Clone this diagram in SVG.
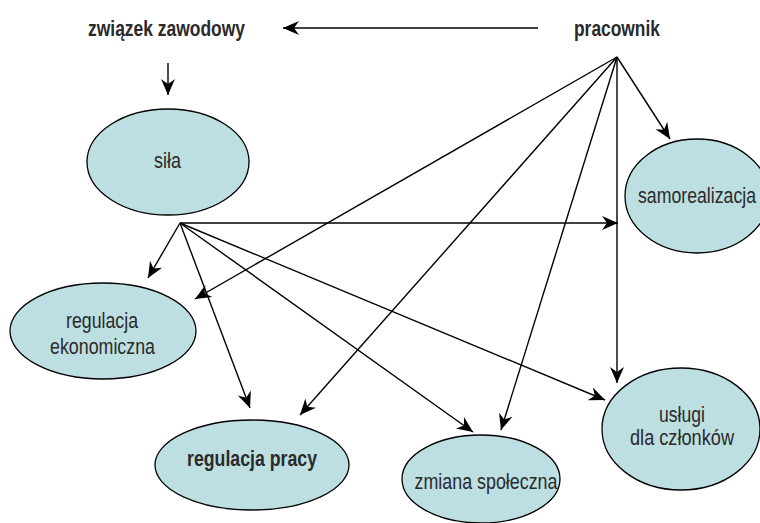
<svg xmlns="http://www.w3.org/2000/svg" width="760" height="523" viewBox="0 0 760 523">
<defs>
<style>
.node ellipse{fill:#bddfe2;stroke:#000;stroke-width:1.3}
text{font-family:"Liberation Sans",Arial,sans-serif;font-size:22px;fill:#2a2a2a;text-anchor:middle}
.b{font-weight:bold}
#connectors line{stroke:#000;stroke-width:1.4;fill:none;marker-end:url(#ah)}
</style>
<marker id="ah" markerUnits="userSpaceOnUse" markerWidth="20" markerHeight="16" viewBox="-16 -8 18 16" refX="0" refY="0" orient="auto">
<path d="M0,0 L-16,-7 L-11,0 L-16,7 Z" fill="#000"/>
</marker>
</defs>
<rect width="760" height="523" fill="#fff"/>
<g id="connectors">
<line x1="538" y1="28" x2="283" y2="28"/>
<line x1="168" y1="63" x2="168" y2="95"/>
<line x1="180" y1="223" x2="618" y2="223"/>
<line x1="180" y1="223" x2="148" y2="278"/>
<line x1="180" y1="223" x2="250" y2="408"/>
<line x1="180" y1="223" x2="473" y2="432"/>
<line x1="180" y1="223" x2="605" y2="400"/>
<line x1="617" y1="57" x2="670" y2="139"/>
<line x1="617" y1="57" x2="617" y2="383"/>
<line x1="617" y1="57" x2="195" y2="299"/>
<line x1="617" y1="57" x2="300" y2="415"/>
<line x1="617" y1="57" x2="501" y2="430"/>
</g>
<g id="zwiazek" class="node"><text class="b" x="166.5" y="36" textLength="157" lengthAdjust="spacingAndGlyphs">związek zawodowy</text></g>
<g id="pracownik" class="node"><text class="b" x="617" y="36" textLength="86" lengthAdjust="spacingAndGlyphs">pracownik</text></g>
<g id="sila" class="node"><ellipse cx="168" cy="162" rx="81" ry="53"/><text x="167.5" y="168" textLength="27" lengthAdjust="spacingAndGlyphs">siła</text></g>
<g id="samorealizacja" class="node"><ellipse cx="697" cy="196" rx="72" ry="57"/><text x="697" y="203" textLength="118" lengthAdjust="spacingAndGlyphs">samorealizacja</text></g>
<g id="regulacja-ekonomiczna" class="node"><ellipse cx="103" cy="331" rx="93" ry="48"/><text x="102" y="328" textLength="72" lengthAdjust="spacingAndGlyphs">regulacja</text><text x="102.5" y="354" textLength="105" lengthAdjust="spacingAndGlyphs">ekonomiczna</text></g>
<g id="regulacja-pracy" class="node"><ellipse cx="252" cy="465" rx="97" ry="45"/><text class="b" x="252" y="466" textLength="130" lengthAdjust="spacingAndGlyphs">regulacja pracy</text></g>
<g id="zmiana-spoleczna" class="node"><ellipse cx="481" cy="479" rx="79" ry="44"/><text x="486" y="489" textLength="143" lengthAdjust="spacingAndGlyphs">zmiana społeczna</text></g>
<g id="uslugi" class="node"><ellipse cx="681" cy="429" rx="79" ry="61"/><text x="682" y="422" textLength="46" lengthAdjust="spacingAndGlyphs">usługi</text><text x="682" y="445" textLength="104" lengthAdjust="spacingAndGlyphs">dla członków</text></g>
</svg>
